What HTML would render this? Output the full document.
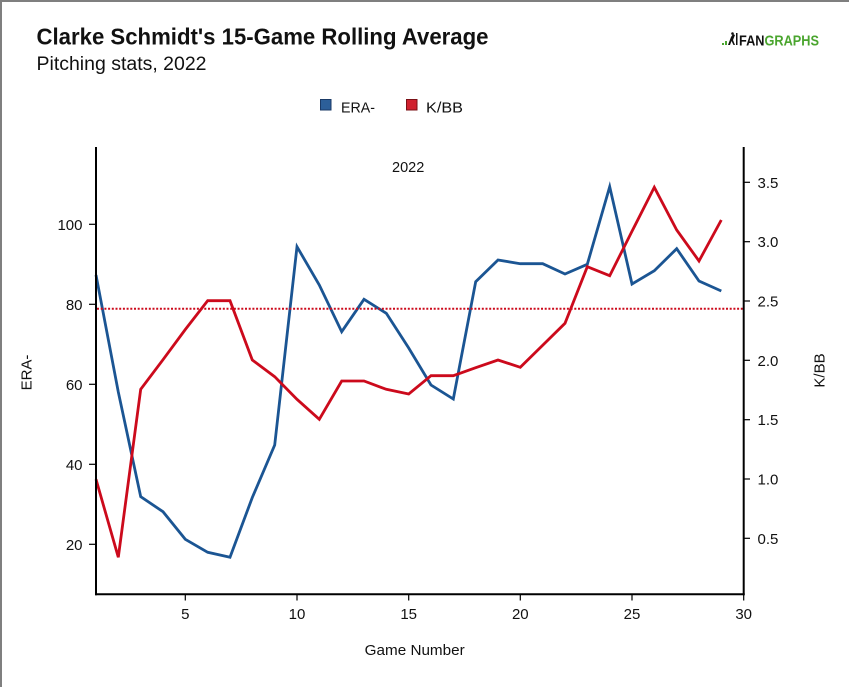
<!DOCTYPE html>
<html>
<head>
<meta charset="utf-8">
<style>
  html, body { margin:0; padding:0; background:#fff; }
  body { width:849px; height:687px; overflow:hidden; }
  svg { display:block; }
  text { font-family: "Liberation Sans", "DejaVu Sans", sans-serif; }
</style>
</head>
<body>
<svg width="849" height="687" viewBox="0 0 849 687" xmlns="http://www.w3.org/2000/svg">
  <rect x="0" y="0" width="849" height="687" fill="#ffffff"/>
  <!-- border top/left -->
  <line x1="0" y1="1" x2="849" y2="1" stroke="#7f7f7f" stroke-width="2"/>
  <line x1="1" y1="0" x2="1" y2="687" stroke="#7f7f7f" stroke-width="2"/>

  <!-- Title -->
  <text x="36.5" y="44.5" font-size="23" font-weight="bold" fill="#111" textLength="452" lengthAdjust="spacingAndGlyphs">Clarke Schmidt's 15-Game Rolling Average</text>
  <text x="36.5" y="70" font-size="19" fill="#111" textLength="170" lengthAdjust="spacingAndGlyphs">Pitching stats, 2022</text>

  <!-- Logo -->
  <g>
    <rect x="722" y="43" width="2" height="2" fill="#4aa52e"/>
    <rect x="725" y="41" width="2" height="4" fill="#4aa52e"/>
    <path d="M728 45 L731 37 L733 34 L735 35 L733 40 L735 45 L733.5 45 L731.5 41 L730 45 Z" fill="#111"/>
    <circle cx="732.5" cy="33.5" r="1.3" fill="#111"/>
    <rect x="736" y="33" width="1.5" height="12" fill="#111"/>
    <text x="739" y="45.5" font-size="15" font-weight="bold" textLength="80" lengthAdjust="spacingAndGlyphs"><tspan fill="#111">FAN</tspan><tspan fill="#4aa52e">GRAPHS</tspan></text>
  </g>

  <!-- Legend -->
  <rect x="320.5" y="99.5" width="10.5" height="10.5" fill="#2c5f99" stroke="#1a3a66" stroke-width="1"/>
  <text x="341" y="112.5" font-size="15" fill="#111" textLength="34" lengthAdjust="spacingAndGlyphs">ERA-</text>
  <rect x="406.5" y="99.5" width="10.5" height="10.5" fill="#d0212e" stroke="#7a1016" stroke-width="1"/>
  <text x="426" y="112.5" font-size="15" fill="#111" textLength="37" lengthAdjust="spacingAndGlyphs">K/BB</text>

  <!-- 2022 label -->
  <text x="392" y="172" font-size="14.5" fill="#111">2022</text>

  <!-- Series -->
  <polyline fill="none" stroke="#1b5593" stroke-width="2.8" stroke-linejoin="miter" points="96,275 118.3,392 140.7,496.7 163,511.7 185.3,539.3 207.7,552.3 230,557.3 252.3,497.5 274.7,445 297,246.7 319.3,285 341.7,331.7 364,299.3 386.3,313.3 408.7,348 431,385 453.3,399 475.7,281.7 498,260 520.3,263.7 542.7,263.7 565,274 587.3,264.3 609.7,186.7 632,284 654.3,270.7 676.7,248.7 699,281 721.3,291"/>
  <polyline fill="none" stroke="#cc0a1c" stroke-width="2.8" stroke-linejoin="miter" points="96,479.3 118.3,557.3 140.7,389.3 163,359.7 185.3,329.5 207.7,300.7 230,300.7 252.3,360 274.7,376.7 297,399.3 319.3,419.3 341.7,381 364,381 386.3,389.3 408.7,394 431,375.7 453.3,375.7 475.7,367.7 498,360 520.3,367.3 542.7,345.3 565,323.3 587.3,266.7 609.7,275.7 632,231.3 654.3,187.3 676.7,230 699,261 721.3,220"/>

  <!-- Dotted reference line -->
  <line x1="97" y1="308.7" x2="743" y2="308.7" stroke="#cc0a1c" stroke-width="2" stroke-dasharray="2,1.7"/>

  <!-- Axes -->
  <line x1="96" y1="147" x2="96" y2="595.3" stroke="#000" stroke-width="2"/>
  <line x1="743.7" y1="147" x2="743.7" y2="595.3" stroke="#000" stroke-width="2"/>
  <line x1="95" y1="594.3" x2="744.7" y2="594.3" stroke="#000" stroke-width="2"/>

  <!-- Left ticks -->
  <g stroke="#000" stroke-width="1.2">
    <line x1="89" y1="224.3" x2="96" y2="224.3"/>
    <line x1="89" y1="304.3" x2="96" y2="304.3"/>
    <line x1="89" y1="384.3" x2="96" y2="384.3"/>
    <line x1="89" y1="464.3" x2="96" y2="464.3"/>
    <line x1="89" y1="544.3" x2="96" y2="544.3"/>
  </g>
  <g font-size="15" fill="#111" text-anchor="end">
    <text x="82.5" y="229.8">100</text>
    <text x="82.5" y="309.8">80</text>
    <text x="82.5" y="389.8">60</text>
    <text x="82.5" y="469.8">40</text>
    <text x="82.5" y="549.8">20</text>
  </g>

  <!-- Right ticks -->
  <g stroke="#000" stroke-width="1.2">
    <line x1="743.7" y1="182.3" x2="750" y2="182.3"/>
    <line x1="743.7" y1="241.7" x2="750" y2="241.7"/>
    <line x1="743.7" y1="301" x2="750" y2="301"/>
    <line x1="743.7" y1="360.3" x2="750" y2="360.3"/>
    <line x1="743.7" y1="419.7" x2="750" y2="419.7"/>
    <line x1="743.7" y1="479" x2="750" y2="479"/>
    <line x1="743.7" y1="538.3" x2="750" y2="538.3"/>
  </g>
  <g font-size="15" fill="#111">
    <text x="757.5" y="187.8">3.5</text>
    <text x="757.5" y="247.2">3.0</text>
    <text x="757.5" y="306.5">2.5</text>
    <text x="757.5" y="365.8">2.0</text>
    <text x="757.5" y="425.2">1.5</text>
    <text x="757.5" y="484.5">1.0</text>
    <text x="757.5" y="543.8">0.5</text>
  </g>

  <!-- Bottom ticks -->
  <g stroke="#000" stroke-width="1.2">
    <line x1="185.3" y1="594.3" x2="185.3" y2="600.5"/>
    <line x1="297" y1="594.3" x2="297" y2="600.5"/>
    <line x1="408.7" y1="594.3" x2="408.7" y2="600.5"/>
    <line x1="520.3" y1="594.3" x2="520.3" y2="600.5"/>
    <line x1="632" y1="594.3" x2="632" y2="600.5"/>
    <line x1="743.7" y1="594.3" x2="743.7" y2="600.5"/>
  </g>
  <g font-size="15" fill="#111" text-anchor="middle">
    <text x="185.3" y="618.8">5</text>
    <text x="297" y="618.8">10</text>
    <text x="408.7" y="618.8">15</text>
    <text x="520.3" y="618.8">20</text>
    <text x="632" y="618.8">25</text>
    <text x="743.7" y="618.8">30</text>
  </g>

  <!-- Axis titles -->
  <text x="414.7" y="655" font-size="15" fill="#111" text-anchor="middle" textLength="100" lengthAdjust="spacingAndGlyphs">Game Number</text>
  <text transform="translate(31.5,372.5) rotate(-90)" font-size="15" fill="#111" text-anchor="middle">ERA-</text>
  <text transform="translate(824.5,370.5) rotate(-90)" font-size="15" fill="#111" text-anchor="middle">K/BB</text>
</svg>
</body>
</html>
